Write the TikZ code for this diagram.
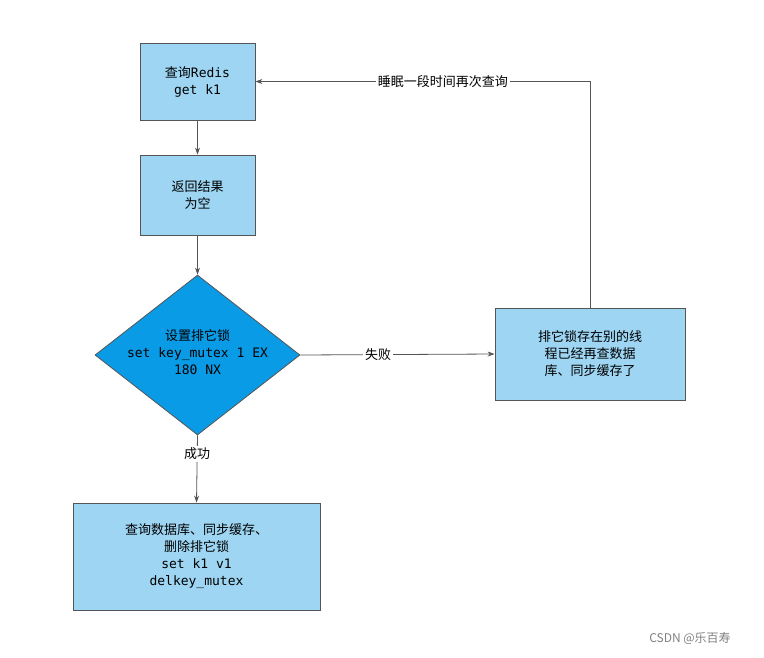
\documentclass[tikz,border=0pt]{standalone}
\usepackage{fontspec}
\setmainfont{Noto Sans CJK SC}
\setmonofont{DejaVu Sans Mono}
\usetikzlibrary{shapes.geometric,arrows.meta}
\definecolor{boxfill}{HTML}{9DD5F2}
\definecolor{dia}{HTML}{0A9BE6}
\definecolor{edge}{HTML}{555555}
\begin{document}
\begin{tikzpicture}[x=1pt,y=-1pt,
  box/.style={draw=edge,fill=boxfill,line width=0.8pt,align=center,font=\fontsize{13}{17}\selectfont,inner sep=0pt},
  conn/.style={draw=edge,line width=0.8pt,-{Stealth[length=7pt,width=5pt]}},
  lab/.style={fill=white,font=\fontsize{13}{16}\selectfont,inner sep=2pt}]
\useasboundingbox (0,0) rectangle (764,657);
\node[box,minimum width=115pt,minimum height=77pt] (q) at (197.5,81.5) {查询\texttt{Redis}\\\texttt{get k1}};
\node[box,minimum width=115pt,minimum height=80pt] (r) at (197.5,195) {返回结果\\为空};
\node[diamond,draw=edge,fill=dia,line width=0.8pt,minimum width=205pt,minimum height=160pt,inner sep=0pt,aspect=1.28,align=center,font=\fontsize{13}{17}\selectfont] (d) at (197.5,355) {};
\node[align=center,font=\fontsize{13}{17}\selectfont] at (197.5,352) {设置排它锁\\\texttt{set key\_mutex 1 EX}\\\texttt{180 NX}};
\node[box,minimum width=190pt,minimum height=92pt] (o) at (590,354) {排它锁存在别的线\\程已经再查数据\\库、同步缓存了};
\node[box,minimum width=247pt,minimum height=107pt] (b) at (196.5,556.5) {查询数据库、同步缓存、\\删除排它锁\\\texttt{set k1 v1}\\\texttt{delkey\_mutex}};
\draw[conn] (q) -- (r);
\draw[conn] (r) -- (d.north);
\draw[conn] (d.east) -- node[lab,pos=0.4]{失败} (o.west);
\draw[conn] (d.south) -- node[lab,pos=0.27]{成功} (b.north);
\draw[conn] (o.north) |- node[lab,pos=0.72]{睡眠一段时间再次查询} (q.east);
\node[text=gray,font=\fontsize{12}{14}\selectfont] (w) at (690,638) {CSDN @乐百寿};
\end{tikzpicture}
\end{document}
